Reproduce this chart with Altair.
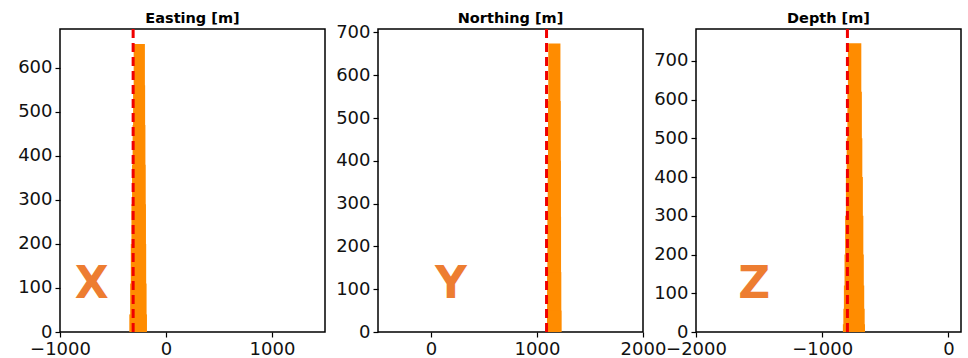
import altair as alt
import pandas as pd

# Histogram columns per coordinate: bin low edge, bin high edge, count
east_lo = [-305, -310, -315, -320, -326, -332, -338, -346]
east_hi = [-199, -197, -195, -193, -190, -187, -184, -180]
east_count = [654, 560, 470, 380, 290, 200, 110, 40]

north_lo = [1106, 1104, 1101, 1099, 1096, 1094]
north_hi = [1221, 1223, 1225, 1227, 1229, 1231]
north_count = [674, 540, 400, 270, 140, 50]

depth_lo = [-796, -800, -806, -812, -818, -823, -828, -832, -836]
depth_hi = [-690, -686, -682, -678, -674, -671, -667, -664, -661]
depth_count = [745, 620, 500, 400, 300, 200, 120, 60, 20]

# Reference (true) value of each coordinate
east_ref = -310
north_ref = 1090
depth_ref = -800

titles = ["Easting [m]", "Northing [m]", "Depth [m]"]
letters = ["X", "Y", "Z"]

BAR = "#FF8C00"
REF = "#F00000"
LETTER = "#ED7D31"
FONT = "DejaVu Sans"


def panel(title, lo, hi, count, ref, letter, letter_xy, xdom, xticks, ydom, yticks,
          title_dy):
    bars_df = pd.DataFrame({"lo": lo, "hi": hi, "count": count})
    ref_df = pd.DataFrame({"v": [ref]})
    txt_df = pd.DataFrame({"x": [letter_xy[0]], "y": [letter_xy[1]], "t": [letter]})

    xs = alt.Scale(domain=xdom, nice=False, zero=False)
    ys = alt.Scale(domain=ydom, nice=False)
    xax = alt.Axis(values=xticks, title=None, grid=False, domain=False, format="d",
                   labelOverlap=False, labelBound=False, labelFlush=False)
    yax = alt.Axis(values=yticks, title=None, grid=False, domain=False, format="d",
                   labelOverlap=False, labelBound=False, labelFlush=False)

    bars = alt.Chart(bars_df).mark_rect(color=BAR).encode(
        x=alt.X("lo:Q", scale=xs, axis=xax),
        x2="hi:Q",
        y=alt.Y("count:Q", scale=ys, axis=yax),
        y2=alt.datum(0),
    )
    rule = alt.Chart(ref_df).mark_rule(
        color=REF, strokeDash=[9, 5], strokeWidth=3
    ).encode(x=alt.X("v:Q", scale=xs))
    txt = alt.Chart(txt_df).mark_text(
        font=FONT, fontSize=44, fontWeight="bold", color=LETTER,
        align="center", baseline="alphabetic"
    ).encode(x=alt.X("x:Q", scale=xs), y=alt.Y("y:Q", scale=ys), text="t:N")

    return alt.layer(bars, rule, txt).properties(
        width=265, height=303,
        title=alt.TitleParams(title, fontSize=14.5, fontWeight="bold", font=FONT,
                              color="black", offset=4, dy=title_dy),
    )


p1 = panel(titles[0], east_lo, east_hi, east_count, east_ref, letters[0], (-700, 77),
           [-1000, 1500], [-1000, 0, 1000], [0, 688], list(range(0, 700, 100)), 3)
p2 = panel(titles[1], north_lo, north_hi, north_count, north_ref, letters[1], (187, 79),
           [-500, 2000], [0, 1000, 2000], [0, 708], list(range(0, 800, 100)), 7)
p3 = panel(titles[2], depth_lo, depth_hi, depth_count, depth_ref, letters[2], (-1539, 87),
           [-2000, 100], [-2000, -1000, 0], [0, 782], list(range(0, 800, 100)), 3)

chart = alt.hconcat(p1, p2, p3, spacing=53, bounds="flush").properties(
    padding={"left": 16, "top": 10, "right": 0, "bottom": 0},
    background="white",
).configure_view(
    stroke="black", strokeWidth=1.5
).configure_axis(
    labelFont=FONT, labelFontSize=18, labelColor="#111111",
    tickColor="black", tickSize=5, tickWidth=1.2, labelPadding=3,
)

chart.save("out.html", embed_options={"renderer": "svg", "actions": False})
